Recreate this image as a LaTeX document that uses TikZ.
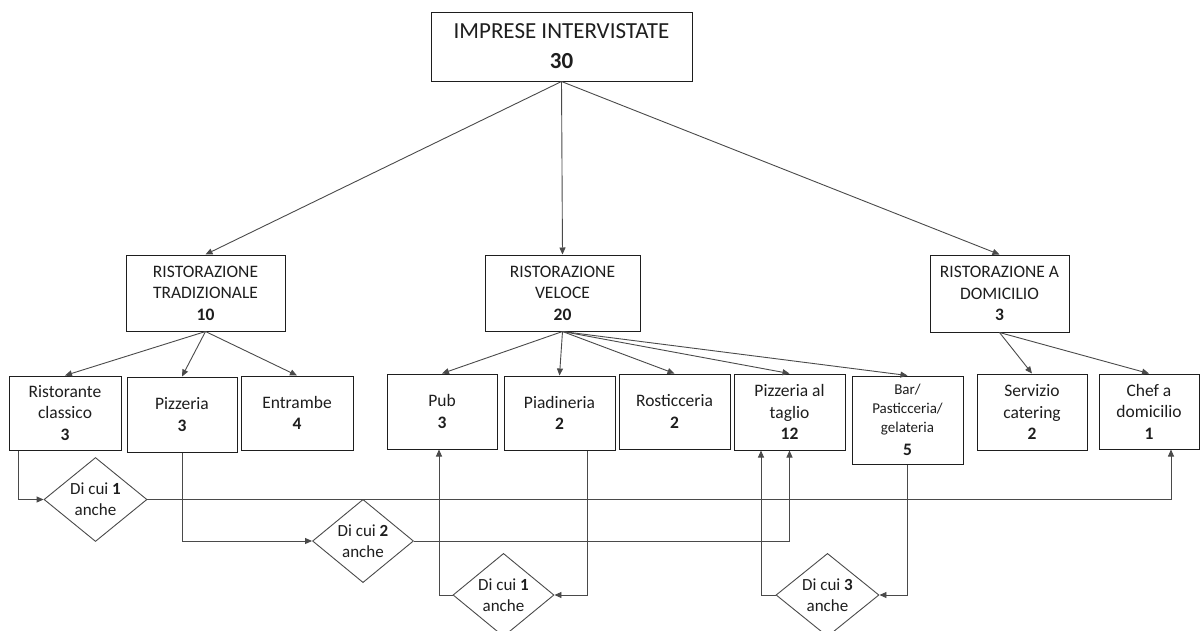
\documentclass[tikz,border=0pt]{standalone}
\usepackage{fontspec}
\setmainfont{Carlito}
\usetikzlibrary{arrows.meta,shapes.geometric}
\definecolor{ink}{HTML}{1E1E1E}
\definecolor{wire}{HTML}{4A4A4A}
\tikzset{
  box/.style={draw=ink,line width=1pt,rectangle,inner sep=0pt,align=center,text=ink,
    font=\fontsize{17.5}{21.5}\selectfont},
  dia/.style={draw=wire,line width=0.9pt,diamond,inner sep=0pt,align=center,text=ink,
    font=\fontsize{17}{20.7}\selectfont},
  arr/.style={draw=wire,line width=0.9pt,-{Triangle[length=7pt,width=6pt]}},
}
\begin{document}
\begin{tikzpicture}[x=1pt,y=-1pt]
\useasboundingbox[fill=white] (0,0) rectangle (1200,630);

% root
\node[box,minimum width=261pt,minimum height=69pt,font=\fontsize{23}{30}\selectfont]
  (root) at (561.5,46.5) {IMPRESE INTERVISTATE\\\textbf{30}};

% second level
\node[box,minimum width=159pt,minimum height=76pt] (trad) at (205.5,293)
  {RISTORAZIONE\\TRADIZIONALE\\\textbf{10}};
\node[box,minimum width=155pt,minimum height=76pt] (vel) at (562.5,293)
  {RISTORAZIONE\\VELOCE\\\textbf{20}};
\node[box,minimum width=139pt,minimum height=77pt] (dom) at (999.5,293.5)
  {RISTORAZIONE A\\DOMICILIO\\\textbf{3}};

% third level
\node[box,minimum width=112pt,minimum height=74pt] (rc) at (65,413)
  {Ristorante\\classico\\\textbf{3}};
\node[box,minimum width=110pt,minimum height=75pt] (pz) at (182,414.5)
  {Pizzeria\\\textbf{3}};
\node[box,minimum width=112pt,minimum height=74pt] (en) at (297,413)
  {Entrambe\\\textbf{4}};
\node[box,minimum width=110pt,minimum height=75pt] (pub) at (442,411.5)
  {Pub\\\textbf{3}};
\node[box,minimum width=111pt,minimum height=74pt] (pd) at (559.5,413)
  {Piadineria\\\textbf{2}};
\node[box,minimum width=111pt,minimum height=75pt] (ro) at (674.5,411.5)
  {Rosticceria\\\textbf{2}};
\node[box,minimum width=111pt,minimum height=76pt] (pt) at (789.5,412)
  {Pizzeria al\\taglio\\\textbf{12}};
\node[box,minimum width=111pt,minimum height=88pt,font=\fontsize{15}{19}\selectfont] (bar) at (907.5,420)
  {Bar/\\Pasticceria/\\gelateria\\[4pt]{\fontsize{17.5}{21.5}\selectfont\textbf{5}}};
\node[box,minimum width=110pt,minimum height=76pt] (sc) at (1032,412)
  {Servizio\\catering\\\textbf{2}};
\node[box,minimum width=100pt,minimum height=75pt] (chef) at (1149,411.5)
  {Chef a\\domicilio\\\textbf{1}};

% overlap diamonds
\node[dia,minimum width=103pt,minimum height=84pt] (d1) at (95.5,499.5)
  {Di cui \textbf{1}\\anche};
\node[dia,minimum width=101pt,minimum height=76pt] (d2) at (363,541)
  {Di cui \textbf{2}\\anche};
\node[dia,minimum width=101pt,minimum height=76pt] (d3) at (503.5,595)
  {Di cui \textbf{1}\\anche};
\node[dia,minimum width=103pt,minimum height=76pt] (d4) at (827.5,595)
  {Di cui \textbf{3}\\anche};

% tree connectors
\foreach \c in {trad,vel,dom} \draw[arr] (root.south) -- (\c.north);
\foreach \c in {rc,pz,en} \draw[arr] (trad.south) -- (\c.north);
\foreach \c in {pub,pd,ro,pt,bar} \draw[arr] (vel.south) -- (\c.north);
\foreach \c in {sc,chef} \draw[arr] (dom.south) -- (\c.north);

% overlap connectors
\draw[arr] ([xshift=-47pt]rc.south) |- (d1.west);
\draw[arr] (d1.east) -| ([xshift=22pt]chef.south);
\draw[arr] (pz.south) |- (d2.west);
\draw[arr] (d2.east) -| (pt.south);
\draw[arr] ([xshift=27.5pt]pd.south) |- (d3.east);
\draw[arr] (d3.west) -| ([xshift=-3pt]pub.south);
\draw[arr] (bar.south) |- (d4.east);
\draw[arr] (d4.west) -| ([xshift=-28.5pt]pt.south);
\end{tikzpicture}
\end{document}
